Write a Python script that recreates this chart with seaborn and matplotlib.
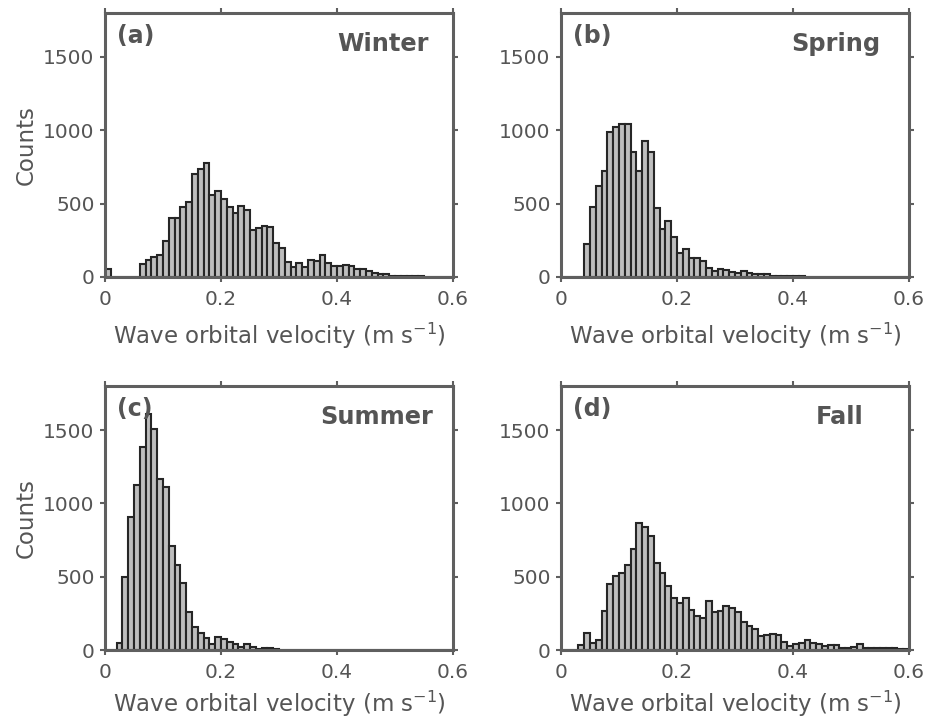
import numpy as np
import pandas as pd
import matplotlib
matplotlib.use("Agg")
import matplotlib.pyplot as plt
import seaborn as sns

# ---- data (counts per 0.01 m/s bin, 0 to 0.6) ----
bin_width = 0.01
bin_range = (0.0, 0.6)

winter = [52, 0, 0, 0, 0, 0, 86, 113, 136, 147,
          244, 403, 403, 480, 511, 702, 735, 776, 559, 588,
          530, 475, 439, 487, 459, 321, 335, 351, 339, 231,
          197, 102, 68, 95, 68, 118, 109, 147, 95, 75,
          72, 79, 75, 52, 52, 38, 29, 23, 18, 9,
          9, 9, 5, 5, 4, 0, 0, 0, 0, 0]

spring = [0, 0, 0, 0, 224, 480, 618, 726, 987, 1025,
          1041, 1043, 851, 722, 930, 853, 468, 326, 380, 276,
          163, 188, 131, 131, 106, 61, 38, 52, 48, 36,
          25, 38, 25, 22, 20, 18, 10, 8, 6, 5,
          4, 4, 3, 2, 2, 0, 0, 0, 0, 0,
          0, 0, 0, 0, 0, 0, 0, 0, 0, 0]

summer = [0, 0, 48, 498, 909, 1126, 1381, 1610, 1507, 1164,
          1114, 708, 582, 459, 258, 155, 114, 80, 41, 87,
          75, 53, 41, 18, 41, 23, 7, 14, 14, 5,
          0, 0, 0, 0, 0, 0, 0, 0, 0, 0,
          0, 0, 0, 0, 0, 0, 0, 0, 0, 0,
          0, 0, 0, 0, 0, 0, 0, 0, 0, 0]

fall = [0, 0, 0, 34, 118, 50, 68, 268, 448, 505,
        523, 580, 686, 864, 836, 780, 595, 527, 439, 352,
        323, 352, 273, 232, 216, 334, 257, 266, 302, 289,
        261, 189, 166, 141, 95, 102, 111, 100, 57, 27,
        43, 50, 66, 48, 39, 27, 34, 36, 16, 16,
        18, 41, 14, 11, 16, 11, 11, 14, 7, 7]

panel_tags = ["(a)", "(b)", "(c)", "(d)"]
season_names = ["Winter", "Spring", "Summer", "Fall"]
x_ticks = [0, 0.2, 0.4, 0.6]
x_tick_labels = ["0", "0.2", "0.4", "0.6"]
y_ticks = [0, 500, 1000, 1500]
y_tick_labels = ["0", "500", "1000", "1500"]

# ---- style ----
sns.set_style("ticks")
plt.rcParams['font.family'] = ['DejaVu Sans']
plt.rcParams['mathtext.fontset'] = 'dejavusans'

txt_col = "#555555"
spine_col = "#5f5f5f"
face_col = "#bebebe"
edge_col = "#262626"

fig = plt.figure(figsize=(9.34, 7.23), dpi=100)
W, H = 934.0, 723.0
positions = [(105, 277), (561, 277), (105, 650), (561, 650)]
aw, ah = 348, 264
title_x = [0.80, 0.79, 0.78, 0.80]
xlabel_pads = [8.5, 8.5, 5.0, 5.0]

n_bins = len(winter)
centers = np.round((np.arange(n_bins) + 0.5) * bin_width, 3)
all_counts = [winter, spring, summer, fall]

for i, counts in enumerate(all_counts):
    lx, by = positions[i]
    ax = fig.add_axes([lx / W, (H - by) / H, aw / W, ah / H])
    df = pd.DataFrame({"v": centers, "n": np.asarray(counts, dtype=float)})
    sns.histplot(data=df, x="v", weights="n", binwidth=bin_width,
                 binrange=bin_range, ax=ax,
                 color=face_col, edgecolor=edge_col, linewidth=1.5,
                 alpha=1.0, stat="count")
    ax.set_xlim(0, 0.6)
    ax.set_ylim(0, 1800)
    ax.set_xticks(x_ticks)
    ax.set_xticklabels(x_tick_labels)
    ax.set_yticks(y_ticks)
    ax.set_yticklabels(y_tick_labels)
    for s in ax.spines.values():
        s.set_visible(True)
        s.set_color(spine_col)
        s.set_linewidth(2.2)
    ax.tick_params(axis="both", which="both", direction="out", length=3.5,
                   width=1.5, color=spine_col, labelcolor=txt_col,
                   labelsize=14.5, top=True, right=True)
    ax.tick_params(axis="x", pad=6)
    ax.tick_params(axis="y", pad=4)
    ax.set_xlabel("Wave orbital velocity (m s$^{-1}$)", fontsize=16.5,
                  color=txt_col, labelpad=xlabel_pads[i])
    if i % 2 == 0:
        ax.set_ylabel("Counts", fontsize=16.5, color=txt_col, labelpad=4)
    else:
        ax.set_ylabel("")
    ax.text(0.035, 0.912, panel_tags[i], transform=ax.transAxes,
            fontsize=17, fontweight="bold", color=txt_col,
            ha="left", va="center")
    ax.text(title_x[i], 0.884, season_names[i], transform=ax.transAxes,
            fontsize=17.3, fontweight="bold", color=txt_col,
            ha="center", va="center")

fig.savefig("out.png", dpi=100)
